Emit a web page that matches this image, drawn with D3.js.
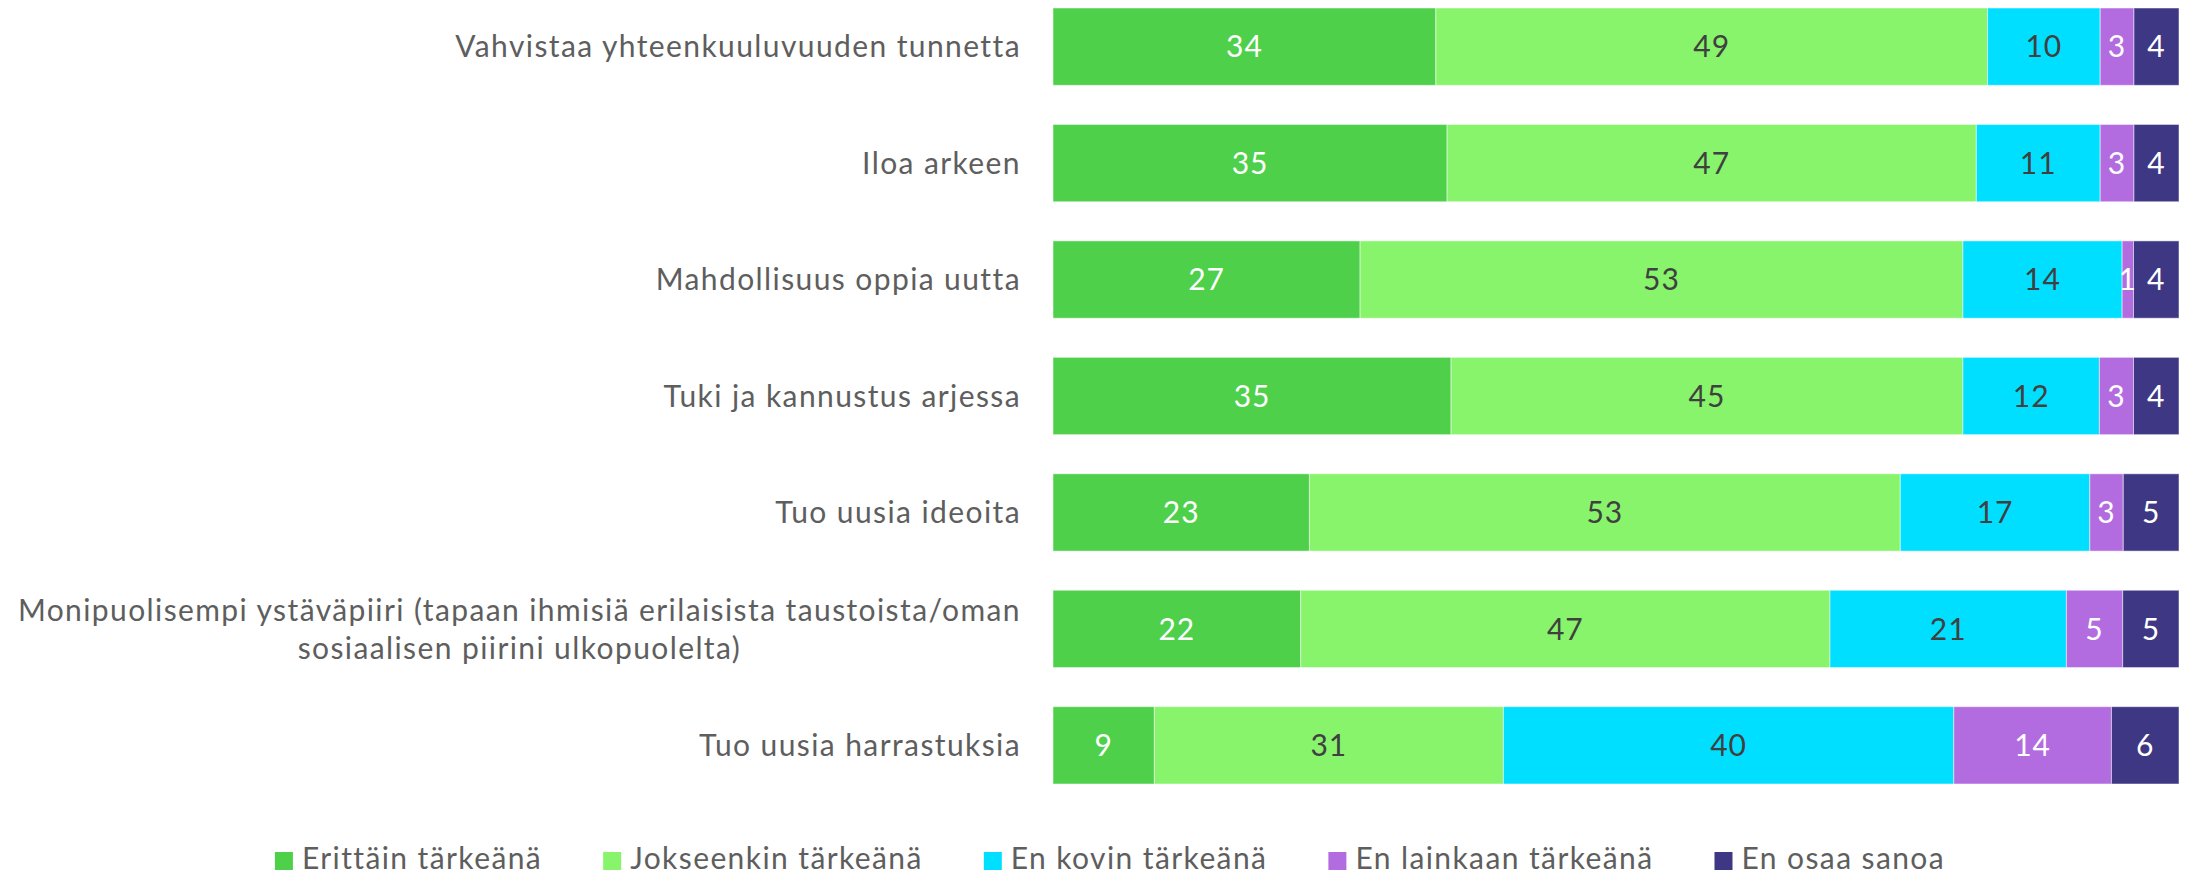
<!DOCTYPE html>
<html>
<head>
<meta charset="utf-8">
<script src="https://cdn.jsdelivr.net/npm/d3@7"></script>
<style>
  body { margin: 0; background: #fff; }
  text { font-family: Lato, "Open Sans", sans-serif; }
</style>
</head>
<body>
<div id="chart"></div>
<script>

let categories = [
  "Vahvistaa yhteenkuuluvuuden tunnetta",
  "Iloa arkeen",
  "Mahdollisuus oppia uutta",
  "Tuki ja kannustus arjessa",
  "Tuo uusia ideoita",
  "Monipuolisempi ystäväpiiri (tapaan ihmisiä erilaisista taustoista/oman|sosiaalisen piirini ulkopuolelta)",
  "Tuo uusia harrastuksia"
]

let seriesNames = ["Erittäin tärkeänä", "Jokseenkin tärkeänä", "En kovin tärkeänä", "En lainkaan tärkeänä", "En osaa sanoa"]

let erittain   = [34, 35, 27, 35, 23, 22, 9]
let jokseenkin = [49, 47, 53, 45, 53, 47, 31]
let kovin      = [10, 11, 14, 12, 17, 21, 40]
let lainkaan   = [3, 3, 1, 3, 3, 5, 14]
let eos        = [4, 4, 4, 4, 5, 5, 6]

let colors = ["#4ed04b", "#87f46b", "#00dfff", "#b36ce0", "#3d3784"]
let labelColors = ["#ffffff", "#404040", "#404040", "#ffffff", "#ffffff"]

let width = 2186, height = 874

let svg = d3.select("#chart")
  .append("svg")
  .attr("width", width)
  .attr("height", height)

let rows = categories.map((c, i) => ({
  cat: c,
  [seriesNames[0]]: erittain[i],
  [seriesNames[1]]: jokseenkin[i],
  [seriesNames[2]]: kovin[i],
  [seriesNames[3]]: lainkaan[i],
  [seriesNames[4]]: eos[i]
}))

let stacked = d3.stack()
  .keys(seriesNames)
  .offset(d3.stackOffsetExpand)(rows)

let x = d3.scaleLinear()
  .domain([0, 1])
  .range([1053, 2179])

let y = d3.scaleBand()
  .domain(categories)
  .range([8, 784])
  .paddingInner(0.336)
  .paddingOuter(0)

let color = d3.scaleOrdinal().domain(seriesNames).range(colors)
let labelColor = d3.scaleOrdinal().domain(seriesNames).range(labelColors)

// bars
let layers = svg.append("g")
  .selectAll("g")
  .data(stacked)
  .join("g")
  .attr("fill", d => color(d.key))

layers.selectAll("rect")
  .data(d => d)
  .join("rect")
  .attr("x", d => x(d[0]))
  .attr("y", d => y(d.data.cat))
  .attr("width", d => x(d[1]) - x(d[0]))
  .attr("height", y.bandwidth())
  .attr("stroke", "#ffffff")
  .attr("stroke-opacity", 0.5)
  .attr("stroke-width", 1)

// value labels
svg.append("g")
  .selectAll("g")
  .data(stacked)
  .join("g")
  .attr("fill", d => labelColor(d.key))
  .selectAll("text")
  .data(d => d.map(v => Object.assign(v, { key: d.key })))
  .join("text")
  .attr("x", d => (x(d[0]) + x(d[1])) / 2)
  .attr("y", d => y(d.data.cat) + y.bandwidth() / 2)
  .attr("dy", "0.36em")
  .attr("text-anchor", "middle")
  .style("font-size", "30px")
  .style("letter-spacing", "1px")
  .text(d => d.data[d.key])

// category labels (right aligned block, lines centered)
let labelRight = 1021
categories.forEach(c => {
  let lines = c.split("|")
  let g = svg.append("g")
  let cy = y(c) + y.bandwidth() / 2
  let lh = 38
  let texts = lines.map((l, j) => g.append("text")
    .attr("y", cy + (j - (lines.length - 1) / 2) * lh)
    .attr("dy", "0.36em")
    .attr("fill", "#5e5e5e")
    .style("font-size", "30px")
    .style("letter-spacing", "1.4px")
    .text(l))
  let maxW = d3.max(texts, t => t.node().getComputedTextLength())
  texts.forEach(t => t
    .attr("x", labelRight - maxW / 2)
    .attr("text-anchor", "middle"))
})

// legend
let legend = svg.append("g")
let lx = 0
seriesNames.forEach(name => {
  let item = legend.append("g").attr("transform", "translate(" + lx + ",0)")
  item.append("rect")
    .attr("x", 0)
    .attr("y", 852)
    .attr("width", 18)
    .attr("height", 18)
    .attr("fill", color(name))
  let t = item.append("text")
    .attr("x", 27)
    .attr("y", 869)
    .attr("fill", "#5e5e5e")
    .style("font-size", "30px")
    .style("letter-spacing", "1.4px")
    .text(name)
  lx += 27 + t.node().getComputedTextLength() + 61
})
let legendW = lx - 61
legend.attr("transform", "translate(" + (1110 - legendW / 2) + ",0)")

</script>
</body>
</html>
